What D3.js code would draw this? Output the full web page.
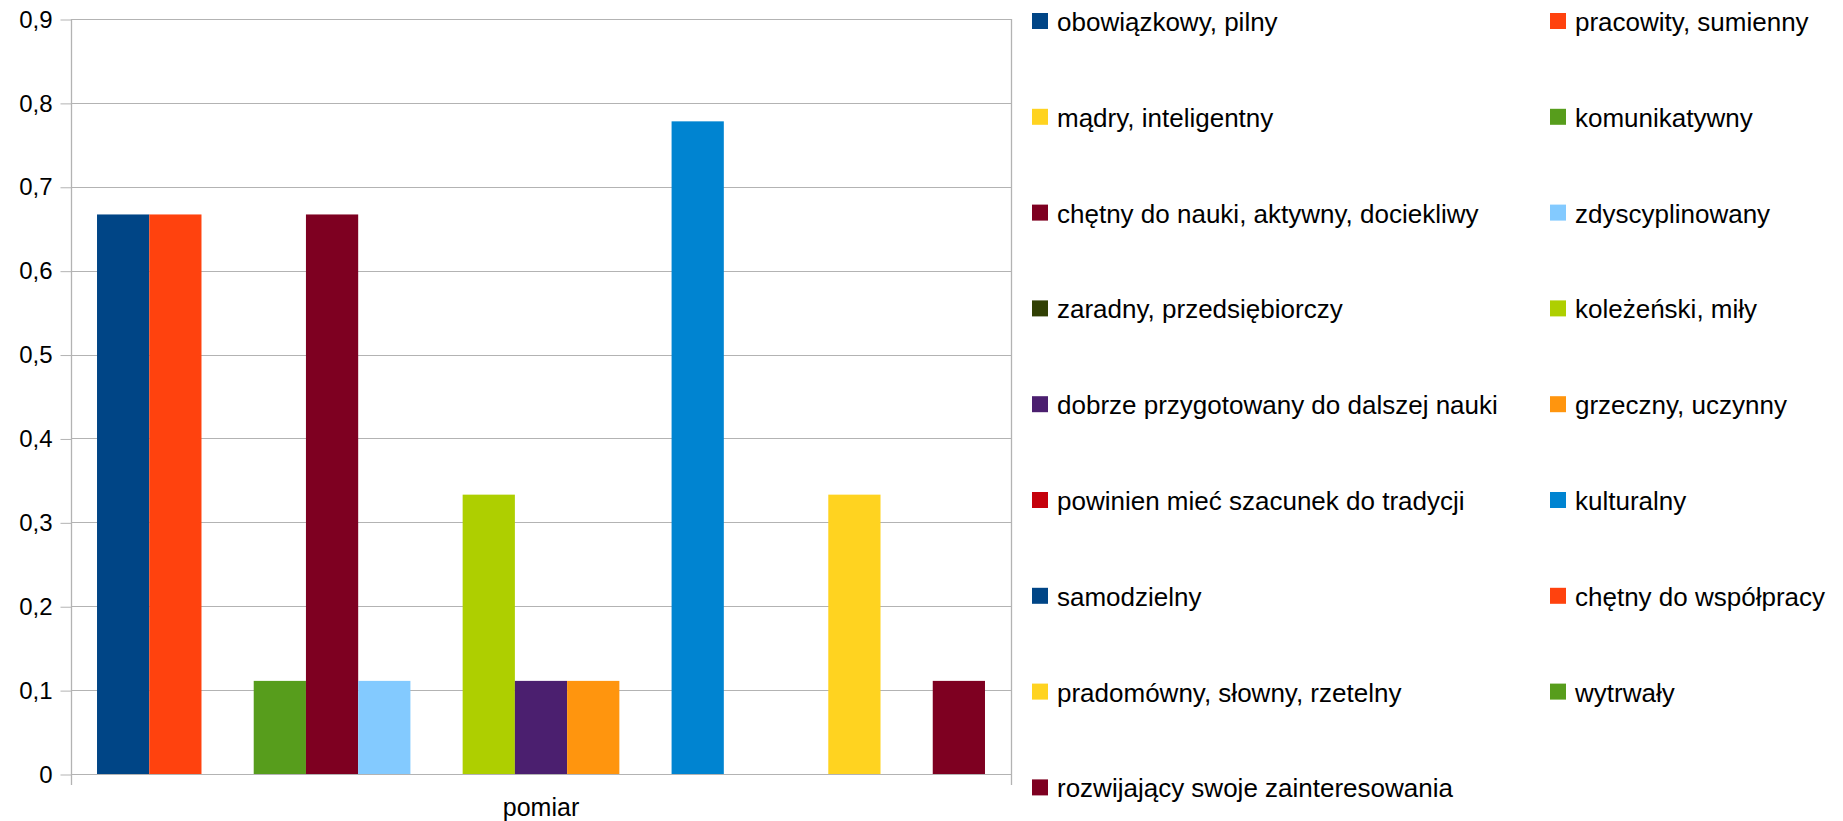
<!DOCTYPE html>
<html>
<head>
<meta charset="utf-8">
<script src="https://cdn.jsdelivr.net/npm/d3@7"></script>
<style>
  html, body { margin: 0; padding: 0; background: #ffffff; }
  svg { display: block; font-family: "Liberation Sans", Arial, sans-serif; }
</style>
</head>
<body>
<svg id="chart" width="1843" height="821"></svg>
<script>
// ---- data ----
const categories = ["pomiar"];
const seriesNames = [
  "obowiązkowy, pilny",
  "pracowity, sumienny",
  "mądry, inteligentny",
  "komunikatywny",
  "chętny do nauki, aktywny, dociekliwy",
  "zdyscyplinowany",
  "zaradny, przedsiębiorczy",
  "koleżeński, miły",
  "dobrze przygotowany do dalszej nauki",
  "grzeczny, uczynny",
  "powinien mieć szacunek do tradycji",
  "kulturalny",
  "samodzielny",
  "chętny do współpracy",
  "pradomówny, słowny, rzetelny",
  "wytrwały",
  "rozwijający swoje zainteresowania"
];
const seriesValues = [
  0.667, 0.667, 0, 0.111, 0.667, 0.111, 0, 0.333, 0.111, 0.111,
  0, 0.778, 0, 0, 0.333, 0, 0.111
];
const seriesColors = [
  "#004586", "#ff420e", "#ffd320", "#579d1c", "#7e0021", "#83caff",
  "#314004", "#aecf00", "#4b1f6f", "#ff950e", "#c5000b", "#0084d1",
  "#004586", "#ff420e", "#ffd320", "#579d1c", "#7e0021"
];
const yTicks = [0, 0.1, 0.2, 0.3, 0.4, 0.5, 0.6, 0.7, 0.8, 0.9];
const yTickLabels = ["0", "0,1", "0,2", "0,3", "0,4", "0,5", "0,6", "0,7", "0,8", "0,9"];

// ---- layout ----
const svg = d3.select("#chart");
const plot = { left: 71, right: 1011, top: 19, bottom: 774 };
const gridColor = "#b3b3b3";

const y = d3.scaleLinear().domain([0, 0.9]).range([plot.bottom, plot.top]);
const x0 = d3.scaleBand().domain(categories).range([plot.left, plot.right])
  .paddingInner(0).paddingOuter(0.0293);
const x1 = d3.scaleBand().domain(d3.range(seriesNames.length))
  .range([0, x0.bandwidth()]).padding(0);

// gridlines
svg.append("g").selectAll("line").data(yTicks).join("line")
  .attr("x1", plot.left).attr("x2", plot.right)
  .attr("y1", d => Math.round(y(d)) + 0.5).attr("y2", d => Math.round(y(d)) + 0.5)
  .attr("stroke", gridColor).attr("stroke-width", 1);

// y axis
const yAxis = d3.axisLeft(y).tickValues(yTicks)
  .tickFormat((d, i) => yTickLabels[i]).tickSize(11).tickPadding(8);
const gy = svg.append("g").attr("transform", `translate(${plot.left + 0.5},0.5)`).call(yAxis);
gy.select(".domain").remove();
gy.selectAll(".tick line").attr("stroke", gridColor);
gy.selectAll(".tick text").attr("font-size", 24).attr("fill", "#000")
  .attr("font-family", "Liberation Sans, Arial, sans-serif");

// left axis line and right border
svg.append("line").attr("x1", plot.left + 0.5).attr("x2", plot.left + 0.5)
  .attr("y1", plot.top).attr("y2", 785).attr("stroke", gridColor).attr("stroke-width", 1.3);
svg.append("line").attr("x1", plot.right + 0.5).attr("x2", plot.right + 0.5)
  .attr("y1", plot.top).attr("y2", 785).attr("stroke", gridColor).attr("stroke-width", 1.3);

// bars
const cat = categories[0];
svg.append("g").selectAll("rect").data(seriesValues).join("rect")
  .attr("x", (d, i) => x0(cat) + x1(i))
  .attr("width", x1.bandwidth())
  .attr("y", d => y(d))
  .attr("height", d => y(0) - y(d))
  .attr("fill", (d, i) => seriesColors[i]);

// x axis label
const xAxis = d3.axisBottom(x0).tickSize(0).tickPadding(0);
const gx = svg.append("g").attr("transform", `translate(0,${plot.bottom})`).call(xAxis);
gx.select(".domain").remove();
gx.selectAll(".tick text").attr("font-size", 25).attr("fill", "#000")
  .attr("font-family", "Liberation Sans, Arial, sans-serif")
  .attr("dy", null).attr("y", 42);

// legend
const legCols = [1032, 1550];
const legTop = 13, legStep = 95.8, sw = 16;
const leg = svg.append("g").selectAll("g").data(seriesNames).join("g")
  .attr("transform", (d, i) => `translate(${legCols[i % 2]},${legTop + Math.floor(i / 2) * legStep})`);
leg.append("rect").attr("width", sw).attr("height", sw)
  .attr("fill", (d, i) => seriesColors[i]);
leg.append("text").attr("x", 25).attr("y", 18)
  .attr("font-size", 26).attr("fill", "#000")
  .text(d => d);
</script>
</body>
</html>
